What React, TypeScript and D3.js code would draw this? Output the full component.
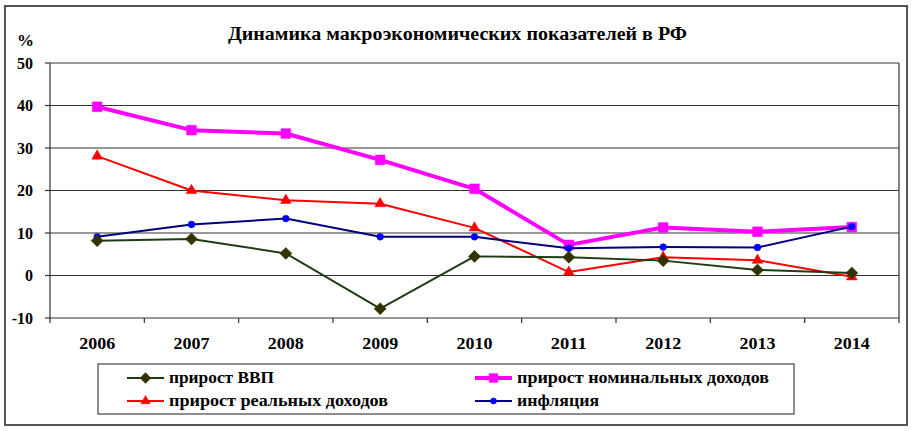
import React from "react";
import * as d3 from "d3";

const years = ["2006", "2007", "2008", "2009", "2010", "2011", "2012", "2013", "2014"];
const gdp = [8.2, 8.6, 5.2, -7.8, 4.5, 4.3, 3.5, 1.3, 0.6];
const nominal = [39.7, 34.2, 33.4, 27.2, 20.4, 7.2, 11.3, 10.3, 11.4];
const real = [28.1, 20.0, 17.7, 16.9, 11.2, 0.8, 4.3, 3.6, -0.3];
const inflation = [9.1, 12.0, 13.4, 9.1, 9.1, 6.4, 6.7, 6.6, 11.5];
const yTicks = [-10, 0, 10, 20, 30, 40, 50];

const title = "Динамика макроэкономических показателей в РФ";
const labelGdp = "прирост ВВП";
const labelNominal = "прирост номинальных доходов";
const labelReal = "прирост реальных доходов";
const labelInfl = "инфляция";

type Marker = "diamond" | "square" | "triangle" | "circle";

function MarkerShape({ x, y, kind, fill, size }: { x: number; y: number; kind: Marker; fill: string; size: number }) {
  if (kind === "diamond") {
    const r = Math.sqrt(size) * 0.72;
    const d = `M0,${-r}L${r},0L0,${r}L${-r},0Z`;
    return <path d={d} transform={`translate(${x},${y})`} fill={fill} stroke={fill} strokeWidth={0.5} />;
  }
  const symType = kind === "square" ? d3.symbolSquare : kind === "triangle" ? d3.symbolTriangle : d3.symbolCircle;
  const path = d3.symbol().type(symType).size(size)();
  return <path d={path || ""} transform={`translate(${x},${y})`} fill={fill} stroke={fill} strokeWidth={0.5} />;
}

export default function App() {
  const left = 50, right = 899, top = 63, bottom = 318;
  const x = d3.scaleBand<string>().domain(years).range([left, right]);
  const y = d3.scaleLinear().domain([-10, 50]).range([bottom, top]);
  const cx = (yr: string) => (x(yr) as number) + x.bandwidth() / 2;

  const series = [
    { data: nominal, line: "#ff00ff", marker: "#ff00ff", kind: "square" as Marker, width: 4, size: 95 },
    { data: real, line: "#ff0000", marker: "#ff0000", kind: "triangle" as Marker, width: 2, size: 50 },
    { data: inflation, line: "#000080", marker: "#0000ff", kind: "circle" as Marker, width: 2, size: 36 },
    { data: gdp, line: "#1e3d14", marker: "#333300", kind: "diamond" as Marker, width: 2, size: 70 },
  ];

  const lineGen = d3
    .line<number>()
    .x((_, i) => cx(years[i]))
    .y((d) => y(d));

  const legendItems = [
    { label: labelGdp, lx: 127, ly: 378, s: series[3], len: 105 },
    { label: labelNominal, lx: 475, ly: 378, s: series[0], len: 252 },
    { label: labelReal, lx: 127, ly: 401, s: series[1], len: 219 },
    { label: labelInfl, lx: 475, ly: 401, s: series[2], len: 82 },
  ];

  const ts: React.CSSProperties = { fontFamily: '"Liberation Serif"', fontWeight: "bold" };

  return (
    <svg width={912} height={431} style={{ position: "absolute", left: 0, top: 0, background: "#fff" }}>
      <rect x={0} y={0} width={912} height={431} fill="#fff" />
      <rect x={5} y={6} width={902} height={419} fill="none" stroke="#555" strokeWidth={2} />
      <text x={228} y={40} fontSize={18} style={ts} textLength={459} lengthAdjust="spacingAndGlyphs" fill="#000">
        {title}
      </text>
      <text x={17} y={46} fontSize={17} style={ts} fill="#000">%</text>

      {yTicks.map((t) => (
        <g key={t}>
          <line x1={left} x2={right} y1={y(t)} y2={y(t)} stroke="#333" strokeWidth={1.2} />
          <line x1={left - 5} x2={left} y1={y(t)} y2={y(t)} stroke="#333" strokeWidth={1.2} />
          <text x={33} y={y(t) + 5.5} fontSize={16} style={ts} textAnchor="end" fill="#000">
            {t}
          </text>
        </g>
      ))}
      <line x1={left} x2={left} y1={top} y2={bottom + 5} stroke="#333" strokeWidth={1.2} />
      <line x1={right} x2={right} y1={top} y2={bottom + 5} stroke="#333" strokeWidth={1.2} />
      {years.map((yr, i) => (
        <g key={yr}>
          {i > 0 && <line x1={x(yr)} x2={x(yr)} y1={bottom} y2={bottom + 5} stroke="#333" strokeWidth={1.2} />}
          <text
            x={cx(yr) - 18}
            y={349}
            fontSize={16}
            style={ts}
            textLength={36}
            lengthAdjust="spacingAndGlyphs"
            fill="#000"
          >
            {yr}
          </text>
        </g>
      ))}

      {series.map((s, si) => (
        <g key={si}>
          <path d={lineGen(s.data) || ""} fill="none" stroke={s.line} strokeWidth={s.width} strokeLinejoin="round" />
          {s.data.map((v, i) => (
            <MarkerShape key={i} x={cx(years[i])} y={y(v)} kind={s.kind} fill={s.marker} size={s.size} />
          ))}
        </g>
      ))}

      <rect x={98} y={364} width={696} height={50} fill="#fff" stroke="#444" strokeWidth={1.2} />
      {legendItems.map((it, i) => (
        <g key={i}>
          <line x1={it.lx} x2={it.lx + 37} y1={it.ly} y2={it.ly} stroke={it.s.line} strokeWidth={it.s.width} />
          <MarkerShape x={it.lx + 18.5} y={it.ly} kind={it.s.kind} fill={it.s.marker} size={it.s.size * 0.8} />
          <text
            x={it.lx + 42}
            y={it.ly + 5}
            fontSize={16}
            style={ts}
            textLength={it.len}
            lengthAdjust="spacingAndGlyphs"
            fill="#000"
          >
            {it.label}
          </text>
        </g>
      ))}
    </svg>
  );
}
